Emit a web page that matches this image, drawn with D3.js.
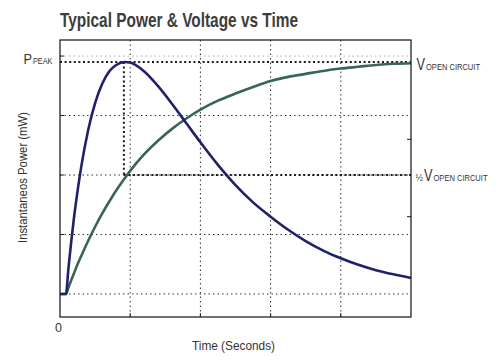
<!DOCTYPE html>
<html>
<head>
<meta charset="utf-8">
<script src="https://cdn.jsdelivr.net/npm/d3@7/dist/d3.min.js"></script>
<style>
  html, body { margin: 0; padding: 0; background: #fff; }
  svg { display: block; }
  text { font-family: "Liberation Sans", Arial, sans-serif; fill: #333; }
</style>
</head>
<body>
<svg id="chart" width="500" height="361"></svg>
<script>
// ---- data ----
const title = "Typical Power & Voltage vs Time";
const xLabel = "Time (Seconds)";
const yLabel = "Instantaneos Power (mW)";
const xTickLabels = ["0"];
const gridX = [1, 2, 3, 4];
const gridY = [0, 1, 2, 3, 4];
const timeValues = [0, 0.085, 0.12, 0.16, 0.2, 0.25, 0.3, 0.4, 0.5, 0.6, 0.7, 0.8, 0.925, 1.0, 1.2, 1.4, 1.6, 1.8, 2.0, 2.25, 2.5, 2.75, 3.0, 3.25, 3.5, 3.75, 4.0, 4.25, 4.5, 4.75, 5.0];
const powerValues = [0, 0, 0.43, 0.88, 1.29, 1.73, 2.12, 2.75, 3.21, 3.53, 3.74, 3.85, 3.9, 3.89, 3.74, 3.49, 3.19, 2.87, 2.55, 2.17, 1.83, 1.54, 1.30, 1.08, 0.89, 0.73, 0.60, 0.49, 0.40, 0.33, 0.27];
const voltageValues = [0, 0, 0.11, 0.23, 0.35, 0.50, 0.63, 0.89, 1.13, 1.35, 1.55, 1.74, 1.95, 2.07, 2.35, 2.58, 2.78, 2.95, 3.10, 3.25, 3.37, 3.48, 3.58, 3.65, 3.70, 3.75, 3.79, 3.82, 3.85, 3.87, 3.88];
const peakTime = 0.91;
const peakPower = 3.9;
const halfVoltage = 2.0;
const voltageTicks = [1.3, 2.6];

// ---- layout ----
const svg = d3.select("#chart");
const x = d3.scaleLinear().domain([0, 5]).range([60, 411]);
const y = d3.scaleLinear().domain([-0.387, 4.27]).range([317, 40]);

function label(txt, px, py, size, width, opts = {}) {
  const t = svg.append("text").attr("x", px).attr("y", py)
    .attr("font-size", size).text(txt);
  if (width) t.attr("textLength", width).attr("lengthAdjust", "spacingAndGlyphs");
  if (opts.bold) t.attr("font-weight", "bold");
  if (opts.fill) t.style("fill", opts.fill);
  return t;
}

// title
label(title, 60, 27, 21, 238, { bold: true, fill: "#3d3d3d" });

// grid
const grid = svg.append("g");
grid.selectAll("line.gx").data(gridX).join("line")
  .attr("x1", d => x(d)).attr("x2", d => x(d))
  .attr("y1", y.range()[1]).attr("y2", y.range()[0])
  .attr("stroke", "#333").attr("stroke-width", 1)
  .attr("stroke-dasharray", "1.5,3");
grid.selectAll("line.gy").data(gridY).join("line")
  .attr("x1", x(0)).attr("x2", x(5))
  .attr("y1", d => y(d)).attr("y2", d => y(d))
  .attr("stroke", d => d === 4 ? "#aaa" : "#333").attr("stroke-width", 1)
  .attr("stroke-dasharray", "1.5,3");

// inner ticks
grid.selectAll("line.tb").data(gridX).join("line")
  .attr("x1", d => x(d)).attr("x2", d => x(d))
  .attr("y1", y.range()[0]).attr("y2", y.range()[0] - 4)
  .attr("stroke", "#222");
grid.selectAll("line.tl").data(gridY).join("line")
  .attr("x1", x(0)).attr("x2", x(0) + 4)
  .attr("y1", d => y(d)).attr("y2", d => y(d))
  .attr("stroke", "#222");
grid.selectAll("line.tr").data(voltageTicks).join("line")
  .attr("x1", x(5)).attr("x2", x(5) - 4)
  .attr("y1", d => y(d)).attr("y2", d => y(d))
  .attr("stroke", "#222");

// heavy dotted reference lines
const ref = svg.append("g").attr("stroke", "#1a1a1a").attr("stroke-width", 2).attr("stroke-dasharray", "2,2.6");
ref.append("line").attr("x1", x(0)).attr("x2", x(5)).attr("y1", y(peakPower)).attr("y2", y(peakPower));
ref.append("line").attr("x1", x(peakTime)).attr("x2", x(peakTime)).attr("y1", y(peakPower)).attr("y2", y(halfVoltage));
ref.append("line").attr("x1", x(peakTime)).attr("x2", x(5)).attr("y1", y(halfVoltage)).attr("y2", y(halfVoltage));

// curves
const vLine = d3.line().x((d, i) => x(timeValues[i])).y(d => y(d)).curve(d3.curveMonotoneX);
svg.append("path").datum(voltageValues)
  .attr("d", vLine).attr("fill", "none")
  .attr("stroke", "#386656").attr("stroke-width", 2.6);
svg.append("path").datum(powerValues)
  .attr("d", vLine).attr("fill", "none")
  .attr("stroke", "#20206c").attr("stroke-width", 2.6);

// frame
svg.append("rect")
  .attr("x", x(0)).attr("y", y.range()[1])
  .attr("width", x(5) - x(0)).attr("height", y.range()[0] - y.range()[1])
  .attr("fill", "none").attr("stroke", "#111").attr("stroke-width", 1.2);

// axis labels
label(xTickLabels[0], 55, 332, 12, 7);
label(xLabel, 192, 350, 13, 83);
svg.append("text")
  .attr("transform", "translate(27,243) rotate(-90)")
  .attr("font-size", 13).attr("textLength", 131).attr("lengthAdjust", "spacingAndGlyphs")
  .text(yLabel);

// P_PEAK label
const pY = y(peakPower) + 2;
label("P", 23.5, pY, 15, 8.5);
label("PEAK", 33, pY, 9, 19.5);

// V_OPEN CIRCUIT labels
const vY = y(peakPower) + 8;
label("V", 416.5, vY, 16, 8.5);
label("OPEN CIRCUIT", 426, vY, 9, 54);

const hY = y(halfVoltage) + 6;
label("½", 415.5, hY, 9);
label("V", 424, hY, 16, 8.5);
label("OPEN CIRCUIT", 433.5, hY, 9, 54);
</script>
</body>
</html>
